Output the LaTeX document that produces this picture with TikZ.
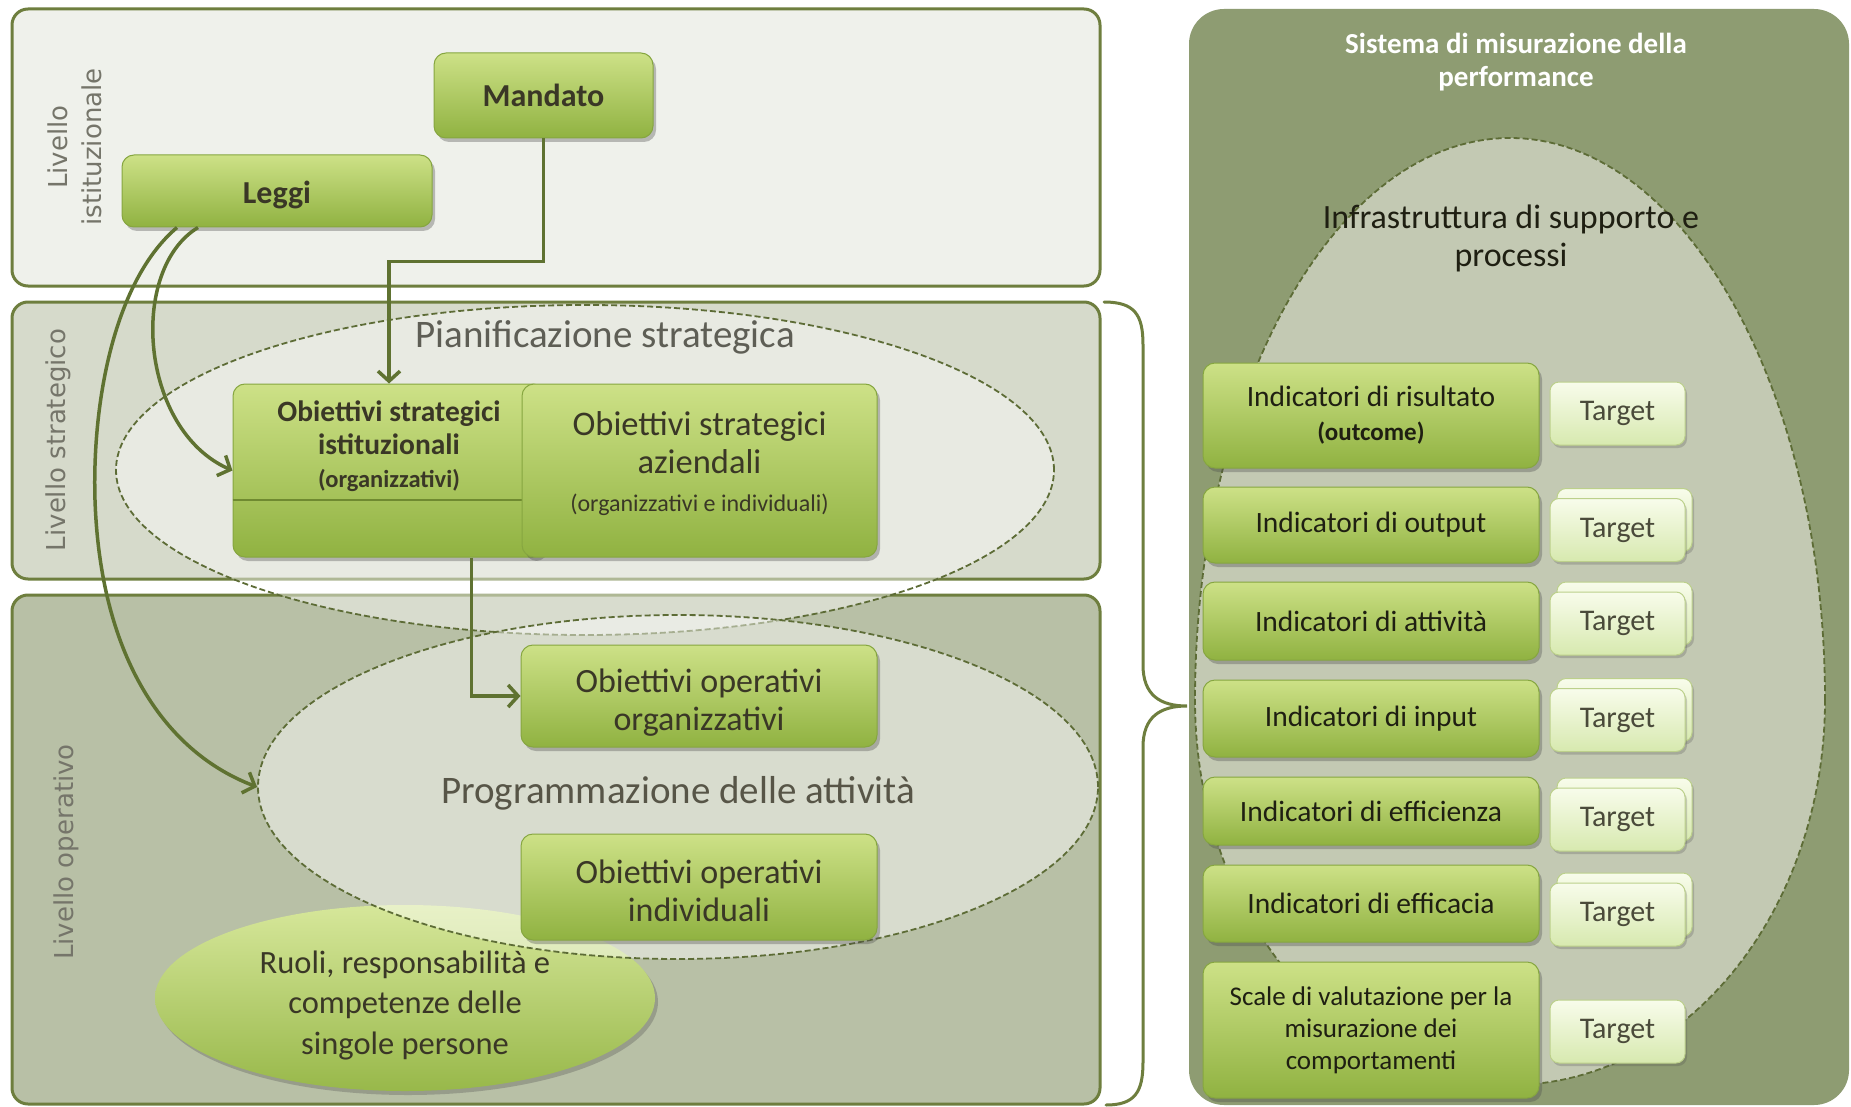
\documentclass[tikz,border=0pt]{standalone}
\usepackage{fontspec}
\setmainfont{Carlito}
\newfontfamily\dejavu{DejaVu Sans}
\usetikzlibrary{shapes.geometric,shadows,arrows.meta}
\newcommand\myfs[2]{\fontsize{#1}{#2}\selectfont}
\definecolor{panelline}{HTML}{6E7E3E}
\definecolor{pAfill}{HTML}{EFF1EB}
\definecolor{pBfill}{HTML}{D6DACB}
\definecolor{pCfill}{HTML}{B8C0A6}
\definecolor{rpfill}{HTML}{8E9C72}
\definecolor{infrafill}{HTML}{C3C9B3}
\definecolor{dashcol}{HTML}{5D6C36}
\definecolor{gtop}{HTML}{CDE187}
\definecolor{gbot}{HTML}{90B241}
\definecolor{gline}{HTML}{86A640}
\definecolor{txtdark}{HTML}{3A3726}
\definecolor{txtblack}{HTML}{1F1F12}
\definecolor{arrcol}{HTML}{5F7231}
\definecolor{ttop}{HTML}{F8FCEB}
\definecolor{tbot}{HTML}{D7E9AF}
\definecolor{tline}{HTML}{BCD08B}
\definecolor{ttxt}{HTML}{4A4A3A}
\definecolor{lblcol}{HTML}{75756A}
\definecolor{rtop}{HTML}{D6E79A}
\definecolor{rbot}{HTML}{98B84A}
\definecolor{sepcol}{HTML}{6F8A30}
\begin{document}
\begin{tikzpicture}[x=1pt,y=-1pt,
  panel/.style={draw=panelline, line width=3pt, rounded corners=16pt, inner sep=0pt, outer sep=0pt},
  gbox/.style={draw=gline, line width=1pt, rounded corners=12pt, top color=gtop, bottom color=gbot,
    drop shadow={shadow xshift=3pt, shadow yshift=-4pt, opacity=0.35, fill=black!70},
    inner sep=0pt, align=center, text=txtdark},
  tbox/.style={draw=tline, line width=1pt, rounded corners=9pt, top color=ttop, bottom color=tbot,
    drop shadow={shadow xshift=2pt, shadow yshift=-3pt, opacity=0.25, fill=black!70},
    inner sep=0pt, minimum width=135, minimum height=63, text=ttxt, font=\myfs{30}{36}},
  dashell/.style={ellipse, draw=dashcol, line width=1.8pt, dash pattern=on 6pt off 3pt,
    fill=white, fill opacity=0.45, text opacity=1, inner sep=0pt},
  arr/.style={draw=arrcol, line width=3.5pt, -{Straight Barb[length=10pt,width=22pt]}},
  lvl/.style={rotate=90, text=lblcol, font=\dejavu\myfs{26}{34}, align=center},
  ind/.style={gbox, minimum width=336, text=txtblack, font=\myfs{29.5}{34}},
  txtnode/.style={align=center, text=txtdark, inner sep=0pt}
]
\useasboundingbox (0,0) rectangle (1851,1107);
\fill[white] (0,0) rectangle (1851,1107);

% left panels
\node[panel, fill=pAfill, minimum width=1088, minimum height=277] (p1) at (556,147.5) {};
\node[panel, fill=pBfill, minimum width=1088, minimum height=277] (p2) at (556,440.5) {};
\node[panel, fill=pCfill, minimum width=1088, minimum height=509] (p3) at (556,849.5) {};

% right panel
\node[fill=rpfill, rounded corners=35pt, minimum width=660, minimum height=1096, inner sep=0pt] (rp) at (1519,557) {};
\begin{scope}
  \clip[rounded corners=35pt] (rp.north west) rectangle (rp.south east);
  \draw[fill=infrafill, draw=dashcol, line width=1.8pt, dash pattern=on 6pt off 3pt]
    (1825,700) arc[start angle=0, end angle=180, x radius=315pt, y radius=562pt]
    arc[start angle=180, end angle=360, x radius=315pt, y radius=385pt] -- cycle;
\end{scope}

% ellipses left
\node[ellipse, top color=rtop, bottom color=rbot, draw=none, minimum width=500, minimum height=186,
  inner sep=0pt, drop shadow={shadow xshift=3pt, shadow yshift=-4pt, opacity=0.3, fill=black!70}] (ruoli) at (405,998) {};
\node[txtnode, font=\myfs{32.5}{40.5}] (ruolitxt) at ([yshift=-7pt]ruoli.center)
  {Ruoli, responsabilità e\\ competenze delle\\ singole persone};
\node[dashell, minimum width=938, minimum height=330] (pian) at (585,470) {};
\node[dashell, minimum width=840, minimum height=344] (prog) at (678,787) {};
\node[txtnode, text=txtdark!85, font=\myfs{39}{46}] (progtxt) at ([yshift=-6pt]prog.center) {Programmazione delle attività};
\node[text=lblcol!80!black, font=\myfs{39}{46}, inner sep=0pt] (piantxt) at (605,337) {Pianificazione strategica};

% green boxes left
\node[gbox, minimum width=219, minimum height=85, font=\bfseries\myfs{32}{38}] (mandato) at (543.5,95.5) {Mandato};
\node[gbox, minimum width=310, minimum height=72] (leggi) at (277,191) {};
\node[txtnode, font=\bfseries\myfs{32}{38}] (leggitxt) at ([yshift=-4pt]leggi.center) {Leggi};
\node[gbox, minimum width=312, minimum height=173] (obist) at (389,470.5) {};
\node[txtnode, font=\bfseries\myfs{29.5}{33}] (obisttxt) at (389,446)
  {Obiettivi strategici\\ istituzionali\\ \myfs{24.5}{31}(organizzativi)};
\draw[sepcol, line width=2pt] (obist.west |- 0,500) -- (530,500);
\node[gbox, minimum width=355, minimum height=173] (obaz) at (699.5,470.5) {};
\node[txtnode, font=\myfs{34.5}{38}] (obaztxt) at (699.5,464)
  {Obiettivi strategici\\ aziendali\\ \myfs{24}{36}(organizzativi e individuali)};
\node[gbox, minimum width=356, minimum height=102] (oporg) at (699,696) {};
\node[txtnode, font=\myfs{34}{38}] (oporgtxt) at ([yshift=-7pt]oporg.center) {Obiettivi operativi\\ organizzativi};
\node[gbox, minimum width=356, minimum height=106] (opind) at (699,887) {};
\node[txtnode, font=\myfs{34}{38}] (opindtxt) at ([yshift=-4pt]opind.center) {Obiettivi operativi\\ individuali};

% connectors
\draw[arr] (mandato.south) |- ([yshift=122pt]obist.north) -- (obist.north);
\draw[arr] ([xshift=-74pt]obist.south east) |- (oporg.west);
\draw[arr] ([xshift=-79pt]leggi.south) .. controls (128,270) and (140,430) .. (obist.west);
\draw[arr] ([xshift=-100pt]leggi.south) .. controls (115,280) and (92,400) .. (95,500)
  .. controls (100,650) and (160,750) .. (prog.west);

% level labels
\node[lvl] (lv1) at (75,147) {Livello\\ istituzionale};
\node[lvl] (lv2) at (58,440) {Livello strategico};
\node[lvl] (lv3) at (66,852) {Livello operativo};

% brace
\draw[panelline, line width=3pt, line cap=round]
  (1104,302) .. controls (1135,302) and (1143,315) .. (1143,345) -- (1143,665)
  .. controls (1143,695) and (1160,706) .. (1187,706)
  .. controls (1160,706) and (1143,717) .. (1143,747) -- (1143,1062)
  .. controls (1143,1092) and (1135,1105) .. (1106,1105);

% right texts
\node[text=white, align=center, font=\bfseries\myfs{29}{33}] (rtitle) at (1516,62)
  {Sistema di misurazione della\\ performance};
\node[text=txtblack, align=center, font=\myfs{34}{38}] (infratxt) at (1511,238)
  {Infrastruttura di supporto e\\ processi};

% indicators
\node[ind, minimum height=105] (ind1) at (1371,415.5) {Indicatori di risultato\\ {\bfseries\myfs{25}{31}(outcome)}};
\node[ind, minimum height=76] (ind2) at (1371,525) {Indicatori di output};
\node[ind, minimum height=78] (ind3) at (1371,621) {Indicatori di attività};
\node[ind, minimum height=77] (ind4) at (1371,718.5) {Indicatori di input};
\node[ind, minimum height=68] (ind5) at (1371,811) {Indicatori di efficienza};
\node[ind, minimum height=77] (ind6) at (1371,903.5) {Indicatori di efficacia};
\node[ind, minimum height=136, font=\myfs{27}{32}] (ind7) at (1371,1030) {Scale di valutazione per la\\ misurazione dei\\ comportamenti};

% targets
\node[tbox] (t1) at (1617.5,413.5) {Target};
\node[tbox] (t2b) at (1624.5,520) {};
\node[tbox] (t2) at (1617.5,530) {Target};
\node[tbox] (t3b) at (1624.5,613.5) {};
\node[tbox] (t3) at (1617.5,623.5) {Target};
\node[tbox] (t4b) at (1624.5,710) {};
\node[tbox] (t4) at (1617.5,720) {Target};
\node[tbox] (t5b) at (1624.5,809.5) {};
\node[tbox] (t5) at (1617.5,819.5) {Target};
\node[tbox] (t6b) at (1624.5,904.5) {};
\node[tbox] (t6) at (1617.5,914.5) {Target};
\node[tbox] (t7) at (1617.5,1031.5) {Target};
\end{tikzpicture}
\end{document}
